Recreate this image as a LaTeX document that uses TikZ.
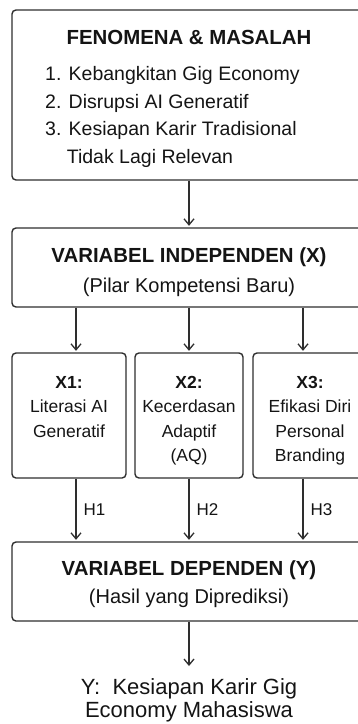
\documentclass[tikz,border=0pt]{standalone}
\usepackage{fontspec}
\setmainfont{Liberation Sans}
\usetikzlibrary{arrows.meta}
\usetikzlibrary{positioning}

\newcommand{\fbody}{\fontsize{19.5}{27.7}\selectfont}
\newcommand{\fhead}{\fontsize{20.4}{24}\selectfont\bfseries}
\newcommand{\fsub}{\fontsize{20}{24}\selectfont}
\newcommand{\fsmall}{\fontsize{17.5}{24.5}\selectfont}
\newcommand{\flabel}{\fontsize{17}{20}\selectfont}
\newcommand{\fout}{\fontsize{22}{23}\selectfont}

\begin{document}
\begin{tikzpicture}[x=1pt,y=-1pt]
    \tikzstyle{box}   = [draw=black!82, line width=1.4pt, rounded corners=4pt, inner sep=0pt]
    \tikzstyle{dedge} = [line width=1.3pt, -{Straight Barb[length=6pt,width=10pt]}, draw=black!82, shorten >=1.5pt]
    \tikzstyle{txt}   = [inner sep=0pt, text=black!92]

    \useasboundingbox (0,0) rectangle (357,724);

    % boxes
    \node[box, minimum width=354, minimum height=170] (fen) at (189,95) {};
    \node[box, minimum width=354, minimum height=79] (ind) at (189,267.5) {};
    \node[box, minimum width=114, minimum height=125] (x1) at (69,415.5) {};
    \node[box, minimum width=108, minimum height=125] (x2) at (189,415.5) {};
    \node[box, minimum width=114, minimum height=125] (x3) at (310,415.5) {};
    \node[box, minimum width=354, minimum height=79] (dep) at (189,581.5) {};

    % texts
    \node[txt, font=\fhead, anchor=base] (fentitle) at (189,44) {FENOMENA \& MASALAH};
    \node[txt, font=\fbody, align=left, anchor=north west] (fenlist) at (45,66)
      {1. Kebangkitan Gig Economy\\2. Disrupsi AI Generatif\\3. Kesiapan Karir Tradisional\\\phantom{3.\ }Tidak Lagi Relevan};

    \node[txt, font=\fhead, anchor=base] (indtitle) at (189,262) {VARIABEL INDEPENDEN (X)};
    \node[txt, font=\fsub, anchor=base] (indsub) at (189,292) {(Pilar Kompetensi Baru)};

    \node[txt, font=\fsmall, align=center, anchor=north] (x1txt) at (69,376) {\textbf{X1:}\\Literasi AI\\Generatif};
    \node[txt, font=\fsmall, align=center, anchor=north] (x2txt) at (189,376) {\textbf{X2:}\\Kecerdasan\\Adaptif\\(AQ)};
    \node[txt, font=\fsmall, align=center, anchor=north] (x3txt) at (310,376) {\textbf{X3:}\\Efikasi Diri\\Personal\\Branding};

    \node[txt, font=\fhead, anchor=base] (deptitle) at (189,575) {VARIABEL DEPENDEN (Y)};
    \node[txt, font=\fsub, anchor=base] (depsub) at (189,603) {(Hasil yang Diprediksi)};

    \node[txt, font=\fout, align=center, anchor=north] (res) at (189,678) {Y:\ \ Kesiapan Karir Gig\\Economy Mahasiswa};

    % arrows
    \coordinate (a1) at (76,0);
    \coordinate (a3) at (303,0);
    \draw[dedge] (fen) -- (ind);
    \draw[dedge] (ind.south -| a1) -- (x1.north -| a1);
    \draw[dedge] (ind) -- (x2);
    \draw[dedge] (ind.south -| a3) -- (x3.north -| a3);
    \draw[dedge] (x1.south -| a1) -- node[txt, font=\flabel, right=7pt] {H1} (dep.north -| a1);
    \draw[dedge] (x2) -- node[txt, font=\flabel, right=7pt] {H2} (dep);
    \draw[dedge] (x3.south -| a3) -- node[txt, font=\flabel, right=7pt] {H3} (dep.north -| a3);
    \draw[dedge, shorten >=12pt] (dep) -- (res);
\end{tikzpicture}
\end{document}
